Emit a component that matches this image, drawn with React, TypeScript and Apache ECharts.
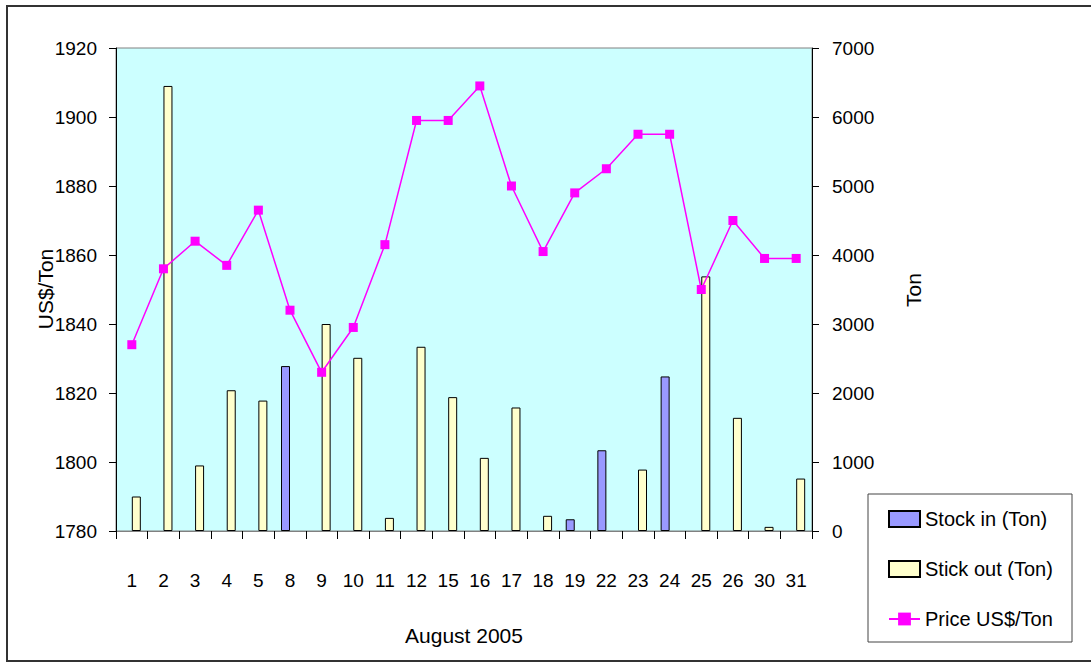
import React, { useEffect, useRef } from "react";
import * as echarts from "echarts";

const categories = ["1","2","3","4","5","8","9","10","11","12","15","16","17","18","19","22","23","24","25","26","30","31"];
const stockIn = [null,null,null,null,null,2390,null,null,null,null,null,null,null,null,170,1170,null,2240,null,null,null,null];
const stockOut = [500,6450,950,2040,1890,null,3000,2510,190,2670,1940,1060,1790,220,null,null,890,null,3690,1640,60,760];
const price = [1834,1856,1864,1857,1873,1844,1826,1839,1863,1899,1899,1909,1880,1861,1878,1885,1895,1895,1850,1870,1859,1859];
const leftTicks = { min: 1780, max: 1920, interval: 20 };
const rightTicks = { min: 0, max: 7000, interval: 1000 };

const FONT = "'Liberation Sans', Arial, sans-serif";

export default function App() {
  const ref = useRef<HTMLDivElement>(null);
  useEffect(() => {
    if (!ref.current) return;
    const chart = echarts.init(ref.current, null, { renderer: "svg" });
    chart.setOption({
      animation: false,
      backgroundColor: "#ffffff",
      textStyle: { fontFamily: FONT },
      grid: {
        left: 116, right: 279, top: 48, bottom: 140,
        show: true, backgroundColor: "#CCFFFF", borderColor: "#808080", borderWidth: 1,
      },
      legend: {
        orient: "vertical",
        left: 883, top: 504,
        itemWidth: 31, itemHeight: 16, itemGap: 30,
        textStyle: { fontSize: 20, color: "#000", fontFamily: FONT },
        data: [
          { name: "Stock in (Ton)", icon: "rect" },
          { name: "Stick out (Ton)", icon: "rect" },
          { name: "Price US$/Ton" },
        ],
      },
      xAxis: {
        type: "category",
        data: categories,
        boundaryGap: true,
        axisLine: { lineStyle: { color: "#808080", width: 1 } },
        axisTick: { show: true, length: 8, lineStyle: { color: "#000" } },
        axisLabel: { fontSize: 19, color: "#000", margin: 40, fontFamily: FONT },
      },
      yAxis: [
        {
          type: "value", position: "left",
          min: leftTicks.min, max: leftTicks.max, interval: leftTicks.interval,
          splitLine: { show: false },
          axisLine: { show: true, lineStyle: { color: "#000" } },
          axisTick: { show: true, length: 7, lineStyle: { color: "#000" } },
          axisLabel: { fontSize: 19, color: "#000", margin: 19, fontFamily: FONT, formatter: (v: number) => String(v) },
        },
        {
          type: "value", position: "right",
          min: rightTicks.min, max: rightTicks.max, interval: rightTicks.interval,
          splitLine: { show: false },
          axisLine: { show: true, lineStyle: { color: "#000" } },
          axisTick: { show: true, length: 7, lineStyle: { color: "#000" } },
          axisLabel: { fontSize: 19, color: "#000", margin: 20, fontFamily: FONT, formatter: (v: number) => String(v) },
        },
      ],
      series: [
        {
          name: "Stock in (Ton)", type: "bar", yAxisIndex: 1, data: stockIn,
          barWidth: 9, barGap: "0%",
          itemStyle: { color: "#9999FF", borderColor: "#000", borderWidth: 1 },
        },
        {
          name: "Stick out (Ton)", type: "bar", yAxisIndex: 1, data: stockOut,
          barWidth: 9, barGap: "0%",
          itemStyle: { color: "#FFFFCC", borderColor: "#000", borderWidth: 1 },
        },
        {
          name: "Price US$/Ton", type: "line", yAxisIndex: 0, data: price,
          symbol: "rect", symbolSize: 9, z: 5,
          lineStyle: { color: "#FF00FF", width: 1.5 },
          itemStyle: { color: "#FF00FF" },
        },
      ],
      graphic: [
        {
          type: "rect", shape: { x: 7, y: 6, width: 1100, height: 655 },
          style: { fill: "none", stroke: "#333", lineWidth: 2 }, silent: true,
        },
        {
          type: "rect", shape: { x: 868, y: 494, width: 204, height: 148 },
          style: { fill: "none", stroke: "#444", lineWidth: 1 }, silent: true, z: -1,
        },
        {
          type: "text", x: 45, y: 289, rotation: Math.PI / 2,
          style: { text: "US$/Ton", fontSize: 21, fill: "#000", fontFamily: FONT, align: "center", verticalAlign: "middle" },
        },
        {
          type: "text", x: 913, y: 290, rotation: Math.PI / 2,
          style: { text: "Ton", fontSize: 21, fill: "#000", fontFamily: FONT, align: "center", verticalAlign: "middle" },
        },
        {
          type: "text", x: 464, y: 635,
          style: { text: "August 2005", fontSize: 21, fill: "#000", fontFamily: FONT, align: "center", verticalAlign: "middle" },
        },
      ],
    });
    return () => chart.dispose();
  }, []);
  return <div ref={ref} style={{ position: "fixed", left: 0, top: 0, width: 1091, height: 671 }} />;
}
